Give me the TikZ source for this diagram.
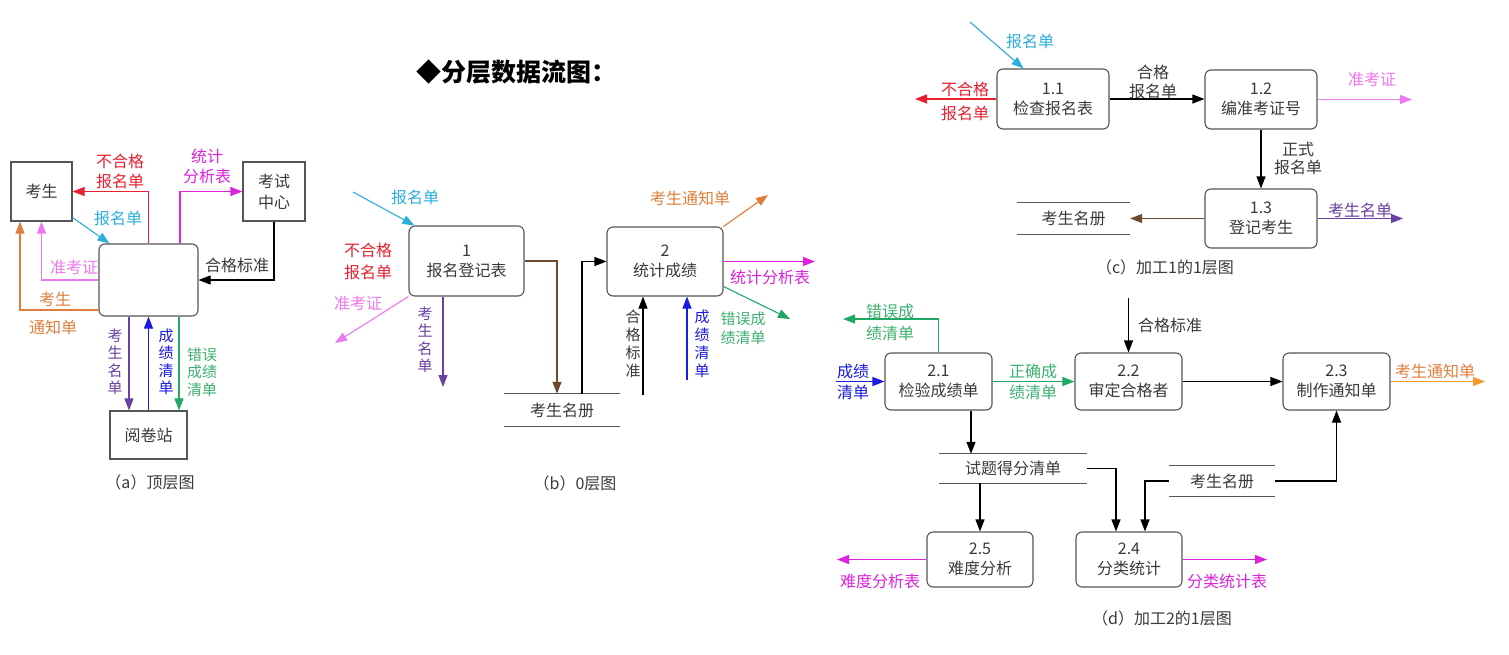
\documentclass[tikz,border=0pt]{standalone}
\usepackage{fontspec}
\newfontfamily\cjk{Noto Sans CJK SC}
\usetikzlibrary{arrows.meta}
\definecolor{cred}{HTML}{E8202F}
\definecolor{ccyan}{HTML}{2AAEDC}
\definecolor{cpink}{HTML}{EE78EE}
\definecolor{cmag}{HTML}{DD22DD}
\definecolor{corange}{HTML}{E07E3C}
\definecolor{corange2}{HTML}{F29A2E}
\definecolor{cpurple}{HTML}{6A40A0}
\definecolor{cblue}{HTML}{1A1AE0}
\definecolor{cgreen}{HTML}{22A865}
\definecolor{cgreentxt}{HTML}{3DB070}
\definecolor{cbrown}{HTML}{6B4A30}
\definecolor{boxgray}{HTML}{555555}
\definecolor{textgray}{HTML}{3A3A3A}
\tikzset{
  box/.style={draw=boxgray, line width=1.1pt, fill=white, rounded corners=6pt, align=center,
    font=\cjk\fontsize{16}{20}\selectfont, text=textgray, inner sep=0pt},
  extbox/.style={draw=boxgray, line width=1.1pt, fill=white, align=center,
    font=\cjk\fontsize{16}{21}\selectfont, text=textgray, inner sep=0pt},
  storebox/.style={inner sep=0pt, font=\cjk\fontsize{16}{20}\selectfont, text=textgray},
  storeline/.style={draw=boxgray, line width=1.1pt},
  flow/.style={line width=1.1pt, -{Triangle[length=12pt,width=9pt]}},
  lbl/.style={inner sep=0pt, font=\cjk\fontsize{16}{20}\selectfont, align=center},
  vlbl/.style={inner sep=0pt, font=\cjk\fontsize{15}{17.5}\selectfont, align=center},
  captxt/.style={inner sep=0pt, font=\cjk\fontsize{16}{20}\selectfont, text=textgray},
}
\begin{document}
\begin{tikzpicture}[x=1pt, y=-1pt]
\useasboundingbox[fill=white] (0,0) rectangle (1509,654);

% ---------- title ----------
\node[inner sep=0pt, font=\cjk\bfseries\fontsize{25}{30}\selectfont] (title) at (516,72) {◆分层数据流图：};

% ================= (a) =================
\node[lbl, text=cpink, anchor=west] (la4) at (50,267) {准考证};
\node[extbox, minimum width=61pt, minimum height=59pt] (ks) at (41.5,191.5) {考生};
\node[extbox, minimum width=62pt, minimum height=59pt] (zx) at (274,191.5) {考试\\中心};
\node[box, minimum width=99pt, minimum height=72pt] (p0) at (148.5,280) {};
\node[extbox, minimum width=77pt, minimum height=48pt] (yjz) at (148.5,435) {阅卷站};

\draw[flow, cred] (p0.north) |- (ks.east);
\draw[flow, cmag] ([xshift=31.5pt]p0.north) |- (zx.west);
\draw[flow, ccyan] ([yshift=4pt]ks.south east) -- ([xshift=11pt]p0.north west);
\draw[flow, cpink] (p0.west) -| (ks.south);
\draw[flow, corange] ([yshift=-30pt]p0.west) -| ([xshift=-21.5pt]ks.south);
\draw[flow, black] (zx.south) |- (p0.east);
\draw[flow, cpurple] ([xshift=-19.5pt]p0.south) -- ([xshift=-19.5pt]yjz.north);
\draw[flow, cblue] (yjz.north) -- (p0.south);
\draw[flow, cgreen] ([xshift=30.5pt]p0.south) -- ([xshift=30.5pt]yjz.north);

\node[lbl, text=cred] (la1) at (120,171) {不合格\\报名单};
\node[lbl, text=cmag] (la2) at (207,166) {统计\\分析表};
\node[lbl, text=ccyan] (la3) at (118,218) {报名单};
\node[lbl, text=corange] (la5) at (55,299) {考生};
\node[lbl, text=corange] (la6) at (53,327) {通知单};
\node[lbl, text=textgray] (la7) at (237,265) {合格标准};
\node[vlbl, text=cpurple] (la8) at (115,362) {考\\生\\名\\单};
\node[vlbl, text=cblue] (la9) at (166,362) {成\\绩\\清\\单};
\node[vlbl, text=cgreentxt] (la10) at (202,372) {错误\\成绩\\清单};
\node[captxt] (capa) at (150,482) {（a）顶层图};

% ================= (b) =================
\node[box, minimum width=115pt, minimum height=70pt] (b1) at (466.5,261) {1\\报名登记表};
\node[box, minimum width=116pt, minimum height=69pt] (b2) at (665,261.5) {2\\统计成绩};
\node[storebox, minimum width=116pt, minimum height=32pt] (bs) at (562,410) {考生名册};
\draw[storeline] (bs.north west) -- (bs.north east) (bs.south west) -- (bs.south east);

\coordinate (bin) at (353,192);
\coordinate (bzkz) at (335,343);
\coordinate (bksmd) at (443,387);
\coordinate (btzd) at (768,195);
\coordinate (btjb) at (815,261.5);
\coordinate (bcw) at (790,319);
\coordinate (bhg) at (643,395);
\coordinate (bcj) at (687,380);

\draw[flow, ccyan] (bin) -- ([xshift=6pt]b1.north west);
\draw[flow, cpink] (b1.south west) -- (bzkz);
\draw[flow, cpurple] ([xshift=-23.5pt]b1.south) -- (bksmd);
\draw[flow, cbrown] (b1.east) -| ([xshift=-5pt]bs.north);
\draw[flow, black] ([xshift=20pt]bs.north) |- (b2.west);
\draw[flow, corange] (b2.north east) -- (btzd);
\draw[flow, cmag] (b2.east) -- (btjb);
\draw[flow, cgreen] ([yshift=-25pt]b2.east) -- (bcw);
\draw[flow, black] (bhg) -- (bhg |- b2.south);
\draw[flow, cblue] (bcj) -- (bcj |- b2.south);

\node[lbl, text=ccyan] (lb1) at (415,197) {报名单};
\node[lbl, font=\cjk\fontsize{16}{22}\selectfont, text=cred] (lb2) at (368,261) {不合格\\报名单};
\node[lbl, text=cpink] (lb3) at (358,303) {准考证};
\node[vlbl, text=cpurple] (lb4) at (425,340) {考\\生\\名\\单};
\node[lbl, text=corange] (lb5) at (690,198) {考生通知单};
\node[lbl, text=cmag] (lb6) at (770,277) {统计分析表};
\node[lbl, font=\cjk\fontsize{15}{19}\selectfont, text=cgreentxt] (lb7) at (743,328) {错误成\\绩清单};
\node[vlbl, font=\cjk\fontsize{15}{18}\selectfont, text=textgray] (lb8) at (633,344) {合\\格\\标\\准};
\node[vlbl, font=\cjk\fontsize{15}{18}\selectfont, text=cblue] (lb9) at (702,344) {成\\绩\\清\\单};
\node[captxt] (capb) at (575,483) {（b）0层图};

% ================= (c) =================
\node[box, minimum width=112pt, minimum height=60pt] (c11) at (1053,99) {1.1\\检查报名表};
\node[box, minimum width=112pt, minimum height=59pt] (c12) at (1261,99.5) {1.2\\编准考证号};
\node[box, minimum width=112pt, minimum height=59pt] (c13) at (1261,218.5) {1.3\\登记考生};
\node[storebox, minimum width=113pt, minimum height=31pt] (cs) at (1073.5,218.5) {考生名册};
\draw[storeline] (cs.north west) -- (cs.north east) (cs.south west) -- (cs.south east);

\coordinate (cin) at (970,22);
\coordinate (cbhg) at (915,99);
\coordinate (czkz) at (1412,99.5);
\coordinate (cksmd) at (1403,218.5);

\draw[flow, ccyan] (cin) -- ([xshift=27pt]c11.north west);
\draw[flow, cred] (c11.west) -- (cbhg);
\draw[flow, black] (c11.east) -- (c11.east -| c12.west);
\draw[flow, cpink] (c12.east) -- (czkz);
\draw[flow, black] (c12.south) -- (c13.north);
\draw[flow, cpurple] (c13.east) -- (cksmd);
\draw[flow, cbrown] (c13.west) -- (cs.east);

\node[lbl, text=ccyan] (lc1) at (1030,41) {报名单};
\node[lbl, text=cred] (lc2) at (965,89) {不合格};
\node[lbl, text=cred] (lc3) at (965,113) {报名单};
\node[lbl, font=\cjk\fontsize{16}{19}\selectfont, text=textgray] (lc4) at (1153,82) {合格\\报名单};
\node[lbl, text=cpink] (lc5) at (1372,79) {准考证};
\node[lbl, font=\cjk\fontsize{16}{18}\selectfont, text=textgray] (lc6) at (1298,158) {正式\\报名单};
\node[lbl, text=cpurple] (lc7) at (1360,210) {考生名单};
\node[captxt] (capc) at (1165,267) {（c）加工1的1层图};

% ================= (d) =================
\node[box, minimum width=107pt, minimum height=57pt] (d21) at (938.5,381.5) {2.1\\检验成绩单};
\node[box, minimum width=107pt, minimum height=57pt] (d22) at (1128.5,381.5) {2.2\\审定合格者};
\node[box, minimum width=107pt, minimum height=57pt] (d23) at (1336.5,381.5) {2.3\\制作通知单};
\node[box, minimum width=106pt, minimum height=55pt] (d25) at (980,559.5) {2.5\\难度分析};
\node[box, minimum width=106pt, minimum height=55pt] (d24) at (1129,559.5) {2.4\\分类统计};
\node[storebox, minimum width=148pt, minimum height=29pt] (ds1) at (1013,468.5) {试题得分清单};
\draw[storeline] (ds1.north west) -- (ds1.north east) (ds1.south west) -- (ds1.south east);
\node[storebox, minimum width=106pt, minimum height=30pt] (ds2) at (1222,481) {考生名册};
\draw[storeline] (ds2.north west) -- (ds2.north east) (ds2.south west) -- (ds2.south east);

\coordinate (dcw) at (843,319);
\coordinate (dcj) at (836,381.5);
\coordinate (dhg) at (1128.5,298);
\coordinate (dtzd) at (1485,381.5);
\coordinate (dnd) at (837,559.5);
\coordinate (dfl) at (1267,559.5);

\draw[flow, cgreen] (d21.north) |- (dcw);
\draw[flow, cblue] (dcj) -- (d21.west);
\draw[flow, cgreen] (d21.east) -- (d22.west);
\draw[flow, black] (dhg) -- (d22.north);
\draw[flow, black] (d22.east) -- (d23.west);
\draw[flow, corange2] (d23.east) -- (dtzd);
\draw[flow, black] ([xshift=32.5pt]d21.south) -- ([xshift=32.5pt]d21.south |- ds1.north);
\draw[flow, black] (d25.north |- ds1.south) -- (d25.north);
\draw[flow, black] (ds1.east) -| ([xshift=-13pt]d24.north);
\draw[flow, black] (ds2.west) -| ([xshift=16pt]d24.north);
\draw[flow, black] (ds2.east) -| (d23.south);
\draw[flow, cmag] (d25.west) -- (dnd);
\draw[flow, cmag] (d24.east) -- (dfl);

\node[lbl, text=cgreentxt] (ld1) at (890,311) {错误成};
\node[lbl, text=cgreentxt] (ld2) at (890,333) {绩清单};
\node[lbl, text=cblue] (ld3) at (853,371) {成绩};
\node[lbl, text=cblue] (ld4) at (853,392) {清单};
\node[lbl, text=cgreentxt] (ld5) at (1033,371) {正确成};
\node[lbl, text=cgreentxt] (ld6) at (1033,392) {绩清单};
\node[lbl, text=textgray] (ld7) at (1170,325) {合格标准};
\node[lbl, text=corange] (ld8) at (1435,371) {考生通知单};
\node[lbl, text=cmag] (ld9) at (880,581) {难度分析表};
\node[lbl, text=cmag] (ld10) at (1227,581) {分类统计表};
\node[captxt] (capd) at (1162,618) {（d）加工2的1层图};
\end{tikzpicture}
\end{document}
